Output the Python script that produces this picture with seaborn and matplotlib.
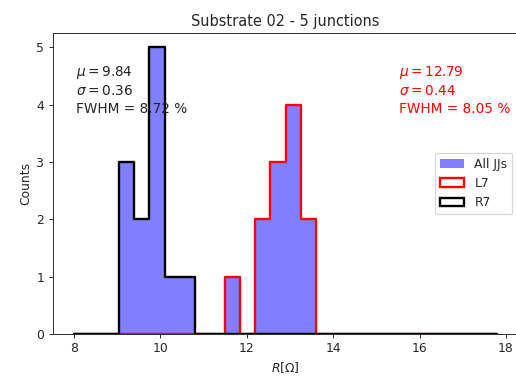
import matplotlib
matplotlib.use("Agg")
import matplotlib.pyplot as plt
from matplotlib.patches import Patch
import seaborn as sns
import numpy as np
import pandas as pd

# histogram bins: 28 bins of 0.35 Ohm from 8 to 17.8
BIN_START = 8.0
BIN_STOP = 17.8
N_BINS = 28

# counts per bin
r7_counts = [0, 0, 0, 3, 2, 5, 1, 1, 0, 0, 0, 0, 0, 0,
             0, 0, 0, 0, 0, 0, 0, 0, 0, 0, 0, 0, 0, 0]
l7_counts = [0, 0, 0, 0, 0, 0, 0, 0, 0, 0, 1, 0, 2, 3,
             4, 2, 0, 0, 0, 0, 0, 0, 0, 0, 0, 0, 0, 0]

labels = ["All JJs", "L7", "R7"]
r7_stats = ["9.84", "0.36", "8.72"]
l7_stats = ["12.79", "0.44", "8.05"]


def stats_text(stats):
    return "$\\mu = {}$\n$\\sigma = {}$\nFWHM = {} %".format(*stats)


def main():
    sns.set_style("ticks")
    plt.rcParams["font.family"] = ["DejaVu Sans"]
    plt.rcParams["xtick.labelsize"] = 10.5
    plt.rcParams["ytick.labelsize"] = 10.5
    plt.rcParams["axes.labelsize"] = 10.5

    edges = np.linspace(BIN_START, BIN_STOP, N_BINS + 1)
    df = pd.DataFrame({
        "R": (edges[:-1] + edges[1:]) / 2,
        "r7": r7_counts,
        "l7": l7_counts,
    })
    df["all"] = df["r7"] + df["l7"]
    bins = list(edges)

    fig = plt.figure(figsize=(516 / 85, 381 / 85), dpi=85)
    ax = fig.add_axes([0.102, 0.123, 0.903, 0.790])

    # all junctions, filled
    sns.histplot(data=df, x="R", weights="all", bins=bins, element="step",
                 fill=True, color="blue", alpha=0.5, linewidth=0, ax=ax)
    # per side outlines
    sns.histplot(data=df, x="R", weights="l7", bins=bins, element="step",
                 fill=False, color="red", linewidth=2, ax=ax)
    sns.histplot(data=df, x="R", weights="r7", bins=bins, element="step",
                 fill=False, color="black", linewidth=2, ax=ax)

    ax.text(8.05, 4.72, stats_text(r7_stats), va="top", ha="left",
            fontsize=11.5, linespacing=1.35, color="#222222")
    ax.text(15.52, 4.72, stats_text(l7_stats), va="top", ha="left",
            fontsize=11.5, linespacing=1.35, color="red")

    handles = [Patch(facecolor="blue", alpha=0.5, edgecolor="none"),
               Patch(facecolor="white", edgecolor="red", linewidth=2),
               Patch(facecolor="white", edgecolor="black", linewidth=2)]
    ax.legend(handles, labels, loc="center right", fontsize=10.5)

    ax.set_xlim(7.51, 18.29)
    ax.set_ylim(0, 5.25)
    ax.set_xticks([8, 10, 12, 14, 16, 18])
    ax.set_xlabel("$R[\\Omega]$")
    ax.set_ylabel("Counts")
    ax.set_title("Substrate 02 - 5 junctions", fontsize=12.3)

    fig.savefig("out.png", dpi=85)


if __name__ == '__main__':
    main()
